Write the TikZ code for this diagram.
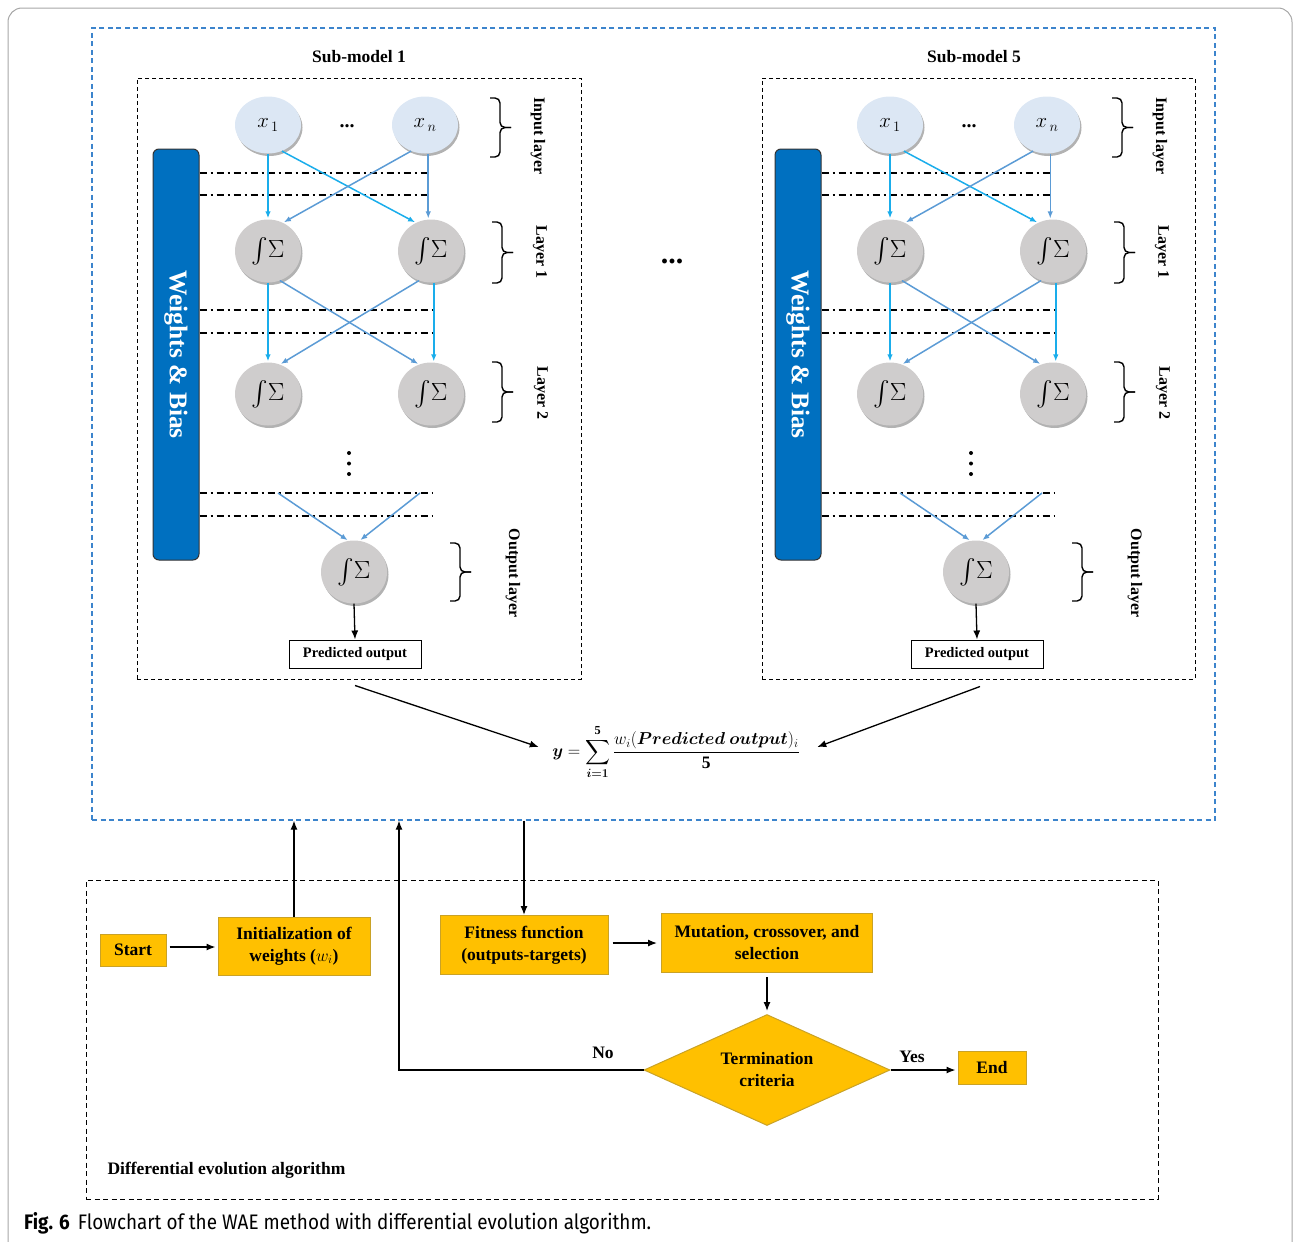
\documentclass[tikz,border=0pt]{standalone}
\usepackage{amsmath}
\usepackage{fontspec}
\setmainfont{Liberation Serif}
\newfontfamily\capfont{Fira Sans}
\usetikzlibrary{arrows.meta,shapes.geometric,shadows,decorations.pathreplacing,calc}
\definecolor{waeblue}{HTML}{3C84CC}
\definecolor{barblue}{HTML}{0070C0}
\definecolor{inpfill}{HTML}{DCE7F4}
\definecolor{neufill}{HTML}{CFCDCD}
\definecolor{cyanA}{HTML}{1AADEB}
\definecolor{blueB}{HTML}{5B9BD5}
\definecolor{gold}{HTML}{FFC000}
\definecolor{goldline}{HTML}{C9A227}
\newcommand\isig{\fontsize{24}{28}\selectfont$\int\!\Sigma$}
\newcommand\mybrace[3]{%
\draw[brc] (#1,#2) -- ++(10,0) -- ++(0,{(#3-#2)/2}) -- ++(11,0);
\draw[brc] (#1,#3) -- ++(10,0) -- ++(0,{-(#3-#2)/2}) -- ++(11,0);}
\newcommand\drawsubmodel[2]{%
\begin{scope}[xshift=#2]
\node[wbar] (#1bar) at (176,354.5) {};
\node[barlab] at (#1bar.center) {Weights \& Bias};
\node[inpnode] (#1x1) at (268,125) {\fontsize{22}{24}\selectfont$x_{\,1}$};
\node[inpnode] (#1xn) at (425,125) {\fontsize{22}{24}\selectfont$x_{\,n}$};
\node[font=\bfseries\fontsize{20}{20}\selectfont] (#1hd) at (347,126) {...};
\node[neunode] (#1a1) at (268,251) {\isig};
\node[neunode] (#1a2) at (431,251) {\isig};
\node[neunode] (#1b1) at (268,394) {\isig};
\node[neunode] (#1b2) at (431,394) {\isig};
\node[neunode] (#1o) at (354,572) {\isig};
\node[predbox] (#1pred) at (355,654) {Predicted output};
\fill (349,453) circle (2pt) (349,463.5) circle (2pt) (349,474) circle (2pt);
\foreach \yy/\len in {173/231,195/231,310/235,333/235,493/233,516/233}
  \draw[ddline] (#1bar.east |- 0,\yy) -- ++(\len,0);
\draw[cyanarr] (#1x1.south) -- (#1a1.north);
\draw[cyanarr] (#1x1.-62) -- (#1a2.118);
\draw[bluearr] (#1xn.-118) -- (#1a1.62);
\draw[bluearr] (#1xn.south -| #1a2.95) -- (#1a2.95);
\draw[cyanarr] (#1a1.south) -- (#1b1.north);
\draw[bluearr] (#1a1.-68) -- (#1b2.112);
\draw[bluearr] (#1a2.-112) -- (#1b1.68);
\draw[cyanarr] (#1a2.-85) -- (#1b2.85);
\coordinate (#1ol) at (278,493);
\coordinate (#1or) at (420,493);
\draw[bluearr] (#1ol) -- (#1o.100);
\draw[bluearr] (#1or) -- (#1o.80);
\draw[blk] (#1o.south) -- (#1pred.north);
\mybrace{490}{98}{157}
\node[lay] at (538,136) {Input layer};
\mybrace{492}{222}{283}
\node[lay] at (540,252) {Layer 1};
\mybrace{492}{362}{422}
\node[lay] at (541,393) {Layer 2};
\mybrace{450}{543}{601}
\node[lay] at (513,573) {Output layer};
\end{scope}}
\begin{document}
\begin{tikzpicture}[x=1pt,y=-1pt,
  inpnode/.style={ellipse, minimum width=66pt, minimum height=57pt, inner sep=0pt, fill=inpfill,
    drop shadow={shadow xshift=1.5pt, shadow yshift=-2.5pt, opacity=0.3, fill=black}},
  neunode/.style={ellipse, minimum width=66pt, minimum height=63pt, inner sep=0pt, fill=neufill,
    drop shadow={shadow xshift=1.5pt, shadow yshift=-2.5pt, opacity=0.3, fill=black}},
  wbar/.style={rectangle, rounded corners=6pt, fill=barblue, draw=black!80, line width=1pt,
    minimum width=46pt, minimum height=411pt},
  barlab/.style={rotate=-90, text=white, font=\bfseries\fontsize{25.5}{28}\selectfont},
  ddline/.style={line width=1.1pt, dash pattern=on 7pt off 4pt on 2pt off 4pt},
  cyanarr/.style={draw=cyanA, line width=1.5pt, shorten >=1pt, -{Latex[length=7pt,width=5.5pt]}},
  bluearr/.style={draw=blueB, line width=1.5pt, shorten >=1pt, -{Latex[length=7pt,width=5.5pt]}},
  blk/.style={line width=1.3pt, -{Latex[length=9pt,width=7pt]}},
  brc/.style={line width=1.4pt, rounded corners=5pt},
  lay/.style={rotate=-90, font=\bfseries\fontsize{16}{18}\selectfont},
  predbox/.style={draw, line width=1pt, minimum width=132pt, minimum height=28pt, inner sep=0pt,
    font=\bfseries\fontsize{14.5}{18}\selectfont},
  subbox/.style={draw, line width=1pt, dash pattern=on 4pt off 3pt},
  title/.style={font=\bfseries\fontsize{17.5}{20}\selectfont},
  box/.style={rectangle, fill=gold, draw=goldline, line width=1pt, inner sep=0pt, align=center,
    font=\bfseries\fontsize{17.5}{22}\selectfont},
  lbl/.style={font=\bfseries\fontsize{17.5}{20}\selectfont}
]
\useasboundingbox (0,0) rectangle (1293,1242);
\draw[black!35, line width=1pt, rounded corners=14pt] (8,8) rectangle (1292,1275);
% main frames
\node[draw=waeblue, line width=1.3pt, dash pattern=on 5pt off 3.5pt, minimum width=1123pt, minimum height=792pt] (wae) at (653.5,424) {};
\node[subbox, minimum width=444pt, minimum height=601pt] (sm1) at (359,378.5) {};
\node[subbox, minimum width=433pt, minimum height=601pt] (sm5) at (978.5,378.5) {};
\node[title] (t1) at (359,57) {Sub-model 1};
\node[title] (t5) at (974,57) {Sub-model 5};
\drawsubmodel{s1}{0pt}
\drawsubmodel{s5}{622pt}
\node[font=\bfseries\fontsize{30}{30}\selectfont] (bigdots) at (672,261) {...};
% formula
\node (formula) at (676,752) {\fontsize{17.5}{20}\selectfont$\displaystyle \boldsymbol{y}=\sum_{\boldsymbol{i=1}}^{\mathbf{5}}\frac{w_i(\boldsymbol{Predicted\ output})_i}{\mathbf{5}}$};
\draw[blk] ($(s1pred.south)+(0,17)$) -- ($(formula.west)+(-10,-5)$);
\draw[blk] ($(s5pred.south)+(3,18)$) -- ($(formula.east)+(14,-5)$);
% DE part
\node[draw, line width=1pt, dash pattern=on 5pt off 3.5pt, minimum width=1072pt, minimum height=319pt] (de) at (622,1039.5) {};
\node[lbl, anchor=west] (delbl) at (104,1170) {Differential evolution algorithm};
\node[box, minimum width=66pt, minimum height=32pt] (start) at (133,950) {Start};
\node[box, minimum width=152pt, minimum height=58pt] (init) at (294,946) {Initialization of\\weights ($w_i$)};
\node[box, minimum width=168pt, minimum height=59pt] (fit) at (524,945) {Fitness function\\(outputs-targets)};
\node[box, minimum width=211pt, minimum height=59pt] (mut) at (767,943) {Mutation, crossover, and\\selection};
\node[diamond, aspect=2.2, fill=gold, draw=goldline, line width=1pt, inner sep=0pt, minimum width=246pt, minimum height=111pt, align=center,
  font=\bfseries\fontsize{17.5}{22}\selectfont] (diam) at (767,1070) {Termination\\criteria};
\node[box, minimum width=68pt, minimum height=33pt] (end) at (992,1068) {End};
\coordinate (nocorner) at (399,1070);
\draw[blk] ($(start.east)+(3,-3)$) -- ($(start.east -| init.west)+(-2,-3)$);
\draw[blk] (init.north) -- (init.north |- wae.south);
\draw[blk] (wae.south -| fit.north) -- (fit.north);
\draw[blk] ($(fit.east)+(4,-2)$) -- ($(fit.east -| mut.west)+(-4,-2)$);
\draw[blk] (mut.south) [shorten <=4pt, shorten >=3pt] -- (diam.north);
\draw[blk] (diam.east) [shorten >=2pt] -- (diam.east -| end.west);
\draw[blk] (diam.west) -- (nocorner) -- (nocorner |- wae.south);
\node[lbl] (yes) at (912,1057) {Yes};
\node[lbl] (no) at (603,1053) {No};
% caption
\node[anchor=base west, inner sep=0pt] (cap) at (24,1229) {\capfont\fontsize{21}{24}\selectfont\scalebox{0.9}[1]{\textbf{Fig. 6}\hspace{9pt}Flowchart of the WAE method with differential evolution algorithm.}};
\end{tikzpicture}
\end{document}
